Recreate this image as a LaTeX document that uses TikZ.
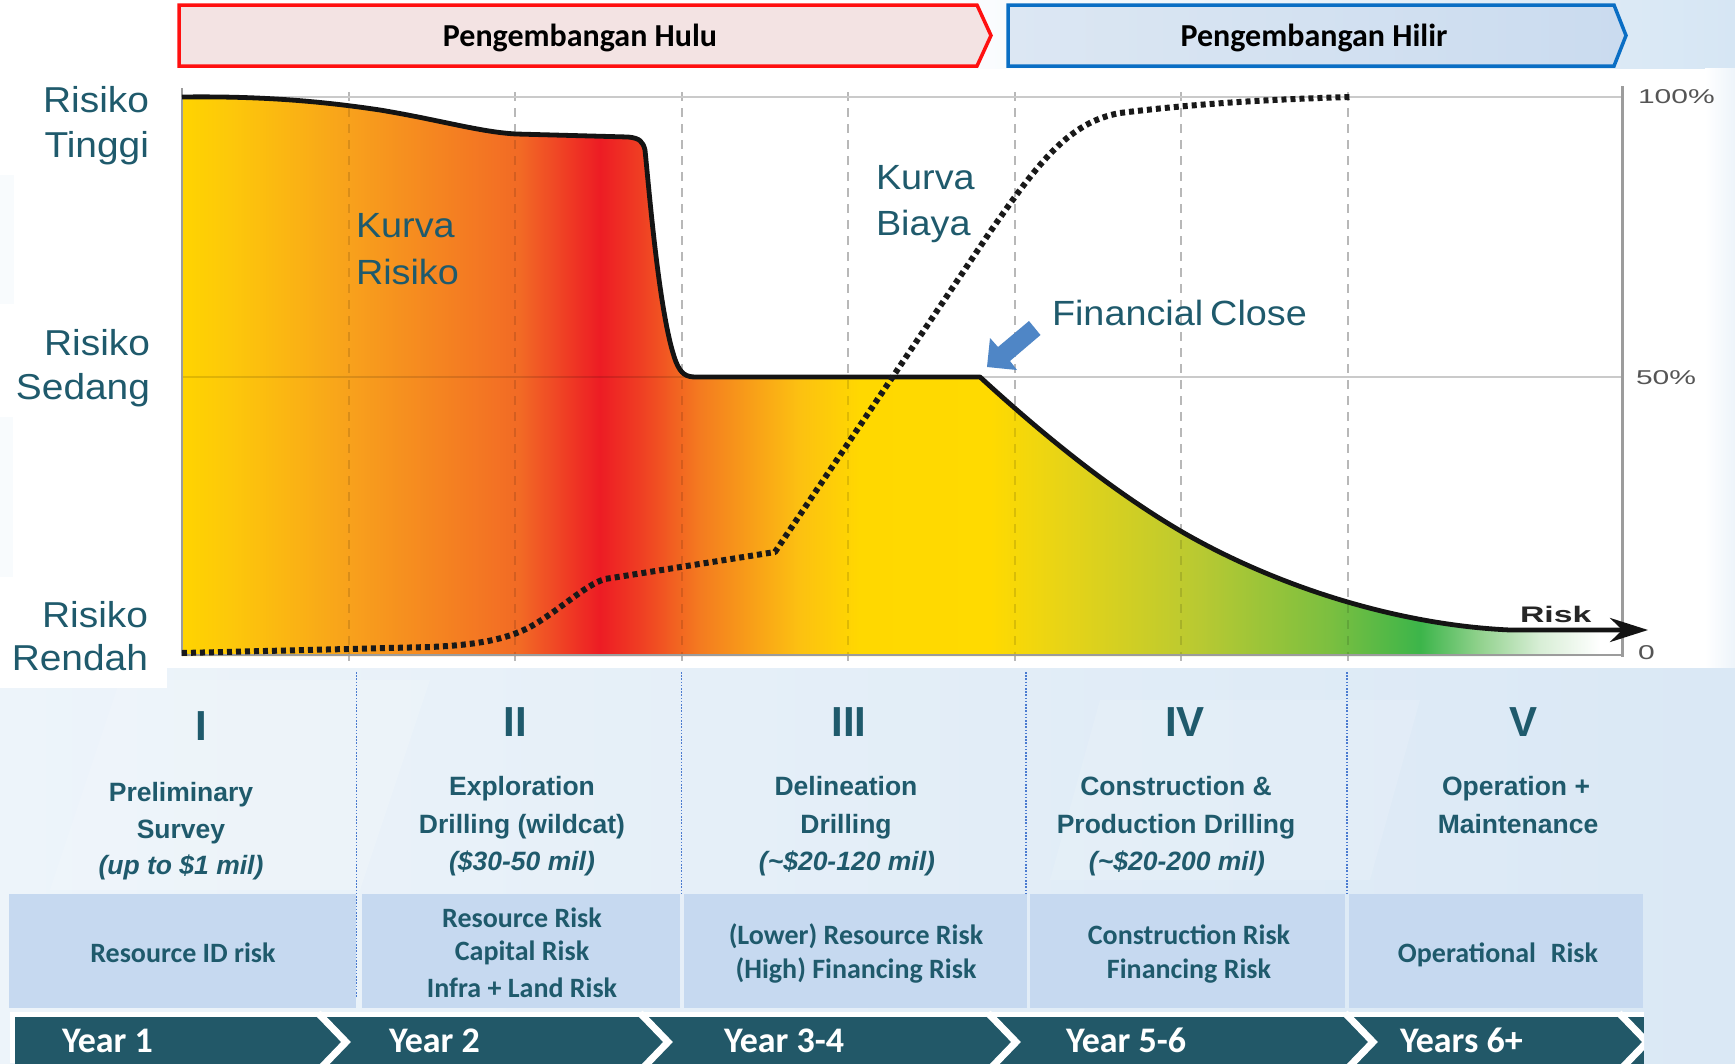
\documentclass[tikz,border=0pt]{standalone}
\usepackage{fontspec}
\setmainfont{Liberation Sans}
\newfontfamily\calfont{Carlito}
\newfontfamily\axfont{Liberation Sans}[FakeStretch=1.5]
\newfontfamily\chartfont{Liberation Sans}[FakeStretch=1.08]
\usetikzlibrary{arrows.meta}
\definecolor{tealtxt}{RGB}{31,90,108}
\definecolor{yearbar}{RGB}{34,88,104}
\definecolor{hulured}{HTML}{FF1010}
\definecolor{hulufill}{HTML}{F3E3E3}
\definecolor{hilirblue}{HTML}{0A6EC4}
\definecolor{hilirL}{HTML}{DCE7F3}
\definecolor{hilirR}{HTML}{CADBEF}
\definecolor{topblue}{HTML}{D6E6F4}
\definecolor{bgL}{HTML}{EDF4FA}
\definecolor{bgR}{HTML}{DAE8F5}
\definecolor{riskblue}{HTML}{C6D9F0}
\definecolor{sepblue}{HTML}{4A7BD0}
\definecolor{gridgray}{HTML}{B8B8B8}
\definecolor{hgridgray}{HTML}{CACACA}
\definecolor{axgray}{HTML}{9C9C9C}
\definecolor{axtxt}{HTML}{555555}
\definecolor{fcblue}{HTML}{4F86C6}
\definecolor{rg0}{HTML}{FFD400}
\definecolor{rg1}{HTML}{FDC80A}
\definecolor{rg2}{HTML}{F8A11C}
\definecolor{rg3}{HTML}{F26A25}
\definecolor{rg4}{HTML}{ED1C24}
\definecolor{rg5}{HTML}{EF3E23}
\definecolor{rg6}{HTML}{F47B20}
\definecolor{rg7}{HTML}{FCC111}
\definecolor{rg8}{HTML}{FFD800}
\definecolor{rg9}{HTML}{FFDA00}
\definecolor{rg10}{HTML}{E8D416}
\definecolor{rg11}{HTML}{B8C932}
\definecolor{rg12}{HTML}{7BBF40}
\definecolor{rg13}{HTML}{3CB54A}
\definecolor{rg14}{HTML}{92D28E}
\definecolor{rg15}{HTML}{D8EED6}
\pgfdeclarehorizontalshading{riskgrad}{100bp}{color(0bp)=(rg0); color(25bp)=(rg0); color(26.67bp)=(rg1); color(30.86bp)=(rg2); color(36.79bp)=(rg3); color(39.58bp)=(rg4); color(40.98bp)=(rg5); color(43.07bp)=(rg6); color(46.56bp)=(rg7); color(48.66bp)=(rg8); color(53.19bp)=(rg9); color(55.64bp)=(rg10); color(60.52bp)=(rg11); color(65.06bp)=(rg12); color(68.2bp)=(rg13); color(70.29bp)=(rg14); color(72.38bp)=(rg15); color(74.48bp)=(white); color(100bp)=(white)}
\tikzset{
  every node/.style={inner sep=0pt, outer sep=0pt},
  lbl/.style={font=\chartfont\fontsize{36}{36}\selectfont, text=tealtxt, anchor=base east},
  kurva/.style={font=\chartfont\fontsize{35}{35}\selectfont, text=tealtxt, anchor=base west},
  axl/.style={font=\axfont\fontsize{20}{20}\selectfont, text=axtxt, anchor=base west},
  risklbl/.style={font=\axfont\bfseries\fontsize{22.5}{22.5}\selectfont, text=black!85, anchor=base west},
  roman/.style={font=\bfseries\fontsize{42}{42}\selectfont, text=tealtxt, anchor=base},
  coltxt/.style={font=\bfseries\fontsize{26.5}{26.5}\selectfont, text=tealtxt, anchor=base},
  colcost/.style={font=\bfseries\itshape\fontsize{26.5}{26.5}\selectfont, text=tealtxt, anchor=base},
  risktxt/.style={font=\calfont\bfseries\fontsize{28}{28}\selectfont, text=tealtxt, anchor=base},
  yeartxt/.style={font=\calfont\bfseries\fontsize{36}{36}\selectfont, text=white, anchor=base west},
  bannertxt/.style={font=\calfont\bfseries\fontsize{32}{32}\selectfont, text=black, anchor=base},
  gridv/.style={draw=gridgray, line width=2pt, dash pattern=on 9pt off 7pt},
  hgrid/.style={draw=hgridgray, line width=2pt},
  riskline/.style={draw=black!92, line width=4.8pt, line join=round},
  costline/.style={draw=black!90, line width=6pt, dash pattern=on 5pt off 4pt, line join=round},
  sepline/.style={draw=sepblue, line width=1.6pt, dash pattern=on 1.6pt off 1.6pt},
  riskbox/.style={fill=riskblue},
}
\begin{document}
\begin{tikzpicture}[x=1pt,y=-1pt]
\useasboundingbox (0,0) rectangle (1735,1063);
\fill[white] (0,0) rectangle (1735,1063);
% background tints
\shade[left color=white, right color=topblue] (880,0) rectangle (1735,68);
\shade[left color=white, right color=bgL] (1705,68) rectangle (1735,668);
\fill[bgL!40!white] (0,175) rectangle (14,304);
\fill[bgL!40!white] (0,417) rectangle (13,577);
\shade[left color=bgL, right color=bgR] (0,668) rectangle (1735,1063);
\fill[white, opacity=0.15] (120,680) -- (430,680) -- (360,890) -- (50,890) -- cycle;
\fill[white, opacity=0.12] (1100,700) -- (1420,700) -- (1370,880) -- (1050,880) -- cycle;
\fill[white] (0,577) rectangle (167,688);

% banners
\draw[line width=3.5pt, draw=hulured, fill=hulufill, line join=miter] (179,5) -- (977,5) -- (991,35.5) -- (977,66) -- (179,66) -- cycle;
\draw[line width=3.5pt, draw=hilirblue, left color=hilirL, right color=hilirR, line join=miter] (1008,5) -- (1614,5) -- (1626,35.5) -- (1614,66) -- (1008,66) -- cycle;
\node[bannertxt] (hulu) at (580,46) {Pengembangan Hulu};
\node[bannertxt] (hilir) at (1314,46) {Pengembangan Hilir};

% grid
\foreach \gx in {348.5,515,681.5,848,1014.5,1181,1347.5}
  \draw[gridv] (\gx,92) -- (\gx,668);
\draw[hgrid] (182,97) -- (1622,97);
\draw[hgrid] (182,377) -- (1622,377);

% risk area
\begin{scope}
\clip (182,656) -- (182,97) .. controls (260,96) and (320,101) .. (380,110) .. controls (440,120) and (480,132) .. (516,134) -- (628,137) .. controls (640,138) and (643,142) .. (645,150) .. controls (650,200) and (660,320) .. (676,362) .. controls (681,374) and (686,377) .. (696,377) -- (980,377) .. controls (1040,432) and (1110,490) .. (1184,533) .. controls (1280,588) and (1400,625) .. (1510,630) -- (1615,630) -- (1615,656) -- cycle;
\shade[shading=riskgrad] (182,90) rectangle (1615,656);
\foreach \gx in {348.5,515,681.5,848,1014.5,1181,1347.5}
  \draw[gridv, draw=black, opacity=0.12] (\gx,92) -- (\gx,668);
\draw[hgrid, draw=black, opacity=0.12] (182,377) -- (1622,377);
\end{scope}

% axes
\draw[draw=axgray, line width=2.5pt] (182,88) -- (182,656);
\draw[draw=axgray, line width=2.5pt] (182,655) -- (1622,655);
\draw[draw=axgray, line width=3pt] (1622,86) -- (1622,657);

% risk curve
\draw[riskline, -{Stealth[length=38pt,width=24pt]}] (182,97) .. controls (260,96) and (320,101) .. (380,110) .. controls (440,120) and (480,132) .. (516,134) -- (628,137) .. controls (640,138) and (643,142) .. (645,150) .. controls (650,200) and (660,320) .. (676,362) .. controls (681,374) and (686,377) .. (696,377) -- (980,377) .. controls (1040,432) and (1110,490) .. (1184,533) .. controls (1280,588) and (1400,625) .. (1510,630) -- (1648,630);

% cost curve
\draw[costline] (182,653) -- (430,647) .. controls (475,645) and (505,640) .. (530,627) .. controls (560,610) and (585,585) .. (605,579) -- (775,552) -- (990,232) .. controls (1040,160) and (1070,122) .. (1120,113) .. controls (1200,103) and (1280,99) .. (1351,97);

% financial close arrow
\fill[fcblue] (987,367) -- (1017,370) -- (1010,361) -- (1040.5,335) -- (1029,321) -- (998,347) -- (990,338) -- cycle;

% chart labels
\node[lbl] (lt1) at (149,112) {Risiko};
\node[lbl] (lt2) at (149,157) {Tinggi};
\node[lbl] (ls1) at (150,355) {Risiko};
\node[lbl] (ls2) at (150,399) {Sedang};
\node[lbl] (lr1) at (148,627) {Risiko};
\node[lbl] (lr2) at (148,670) {Rendah};
\node[kurva] (kr1) at (356,237) {Kurva};
\node[kurva] (kr2) at (356,284) {Risiko};
\node[kurva] (kb1) at (876,189) {Kurva};
\node[kurva] (kb2) at (876,235) {Biaya};
\node[kurva] (fc) at (1052,325) {Financial\hspace{-0.1em} Close};
\node[axl] (p100) at (1638,103) {100\%};
\node[axl] (p50) at (1636,384) {50\%};
\node[axl] (p0) at (1638,659) {0};
\node[risklbl] (risk) at (1520,622) {Risk};

% risk boxes
\fill[riskbox] (9,894) rectangle (356,1008);
\fill[riskbox] (362,894) rectangle (680,1008);
\fill[riskbox] (684,894) rectangle (1027,1008);
\fill[riskbox] (1030,894) rectangle (1345,1008);
\fill[riskbox] (1349,894) rectangle (1643,1008);

% separators
\draw[sepline] (356.5,672) -- (356.5,998);
\draw[sepline] (681.5,672) -- (681.5,893);
\draw[sepline] (1026,672) -- (1026,893);
\draw[sepline] (1347,672) -- (1347,893);

% stages
\node[roman] (r1) at (201,740) {I};
\node[roman] (r2) at (515,736) {II};
\node[roman] (r3) at (849,736) {III};
\node[roman] (r4) at (1185,736) {IV};
\node[roman] (r5) at (1523,736) {V};

\node[coltxt] (c1a) at (181,801) {Preliminary};
\node[coltxt] (c1b) at (181,838) {Survey};
\node[colcost] (c1c) at (181,874) {(up to \$1 mil)};
\node[coltxt] (c2a) at (522,795) {Exploration};
\node[coltxt] (c2b) at (522,833) {Drilling (wildcat)};
\node[colcost] (c2c) at (522,870) {(\$30-50 mil)};
\node[coltxt] (c3a) at (846,795) {Delineation};
\node[coltxt] (c3b) at (846,833) {Drilling};
\node[colcost] (c3c) at (847,870) {(\textasciitilde\$20-120 mil)};
\node[coltxt] (c4a) at (1176,795) {Construction \&};
\node[coltxt] (c4b) at (1176,833) {Production Drilling};
\node[colcost] (c4c) at (1177,870) {(\textasciitilde\$20-200 mil)};
\node[coltxt] (c5a) at (1516,795) {Operation +};
\node[coltxt] (c5b) at (1518,833) {Maintenance};

\node[risktxt] (k1) at (183,962) {Resource ID risk};
\node[risktxt] (k2a) at (522,927) {Resource Risk};
\node[risktxt] (k2b) at (522,960) {Capital Risk};
\node[risktxt] (k2c) at (522,997) {Infra + Land Risk};
\node[risktxt] (k3a) at (856,944) {(Lower) Resource Risk};
\node[risktxt] (k3b) at (856,978) {(High) Financing Risk};
\node[risktxt] (k4a) at (1189,944) {Construction Risk};
\node[risktxt] (k4b) at (1189,978) {Financing Risk};
\node[risktxt] (k5) at (1498,962) {Operational\hspace{0.3em} Risk};

% year bar
\fill[white] (10,1012) rectangle (1644,1063);
\fill[yearbar] (15,1017) rectangle (1644,1070);
\begin{scope}
\clip (0,1000) rectangle (1644,1063);
\foreach \cx in {318,640,988,1345,1619}
  \draw[white, line width=7pt] (\cx,1013) -- (\cx+28,1042) -- (\cx,1071);
\end{scope}
\node[yeartxt] (y1) at (62,1052) {Year 1};
\node[yeartxt] (y2) at (389,1052) {Year 2};
\node[yeartxt] (y3) at (724,1052) {Year 3-4};
\node[yeartxt] (y4) at (1066,1052) {Year 5-6};
\node[yeartxt] (y5) at (1400,1052) {Years 6+};
\end{tikzpicture}
\end{document}
